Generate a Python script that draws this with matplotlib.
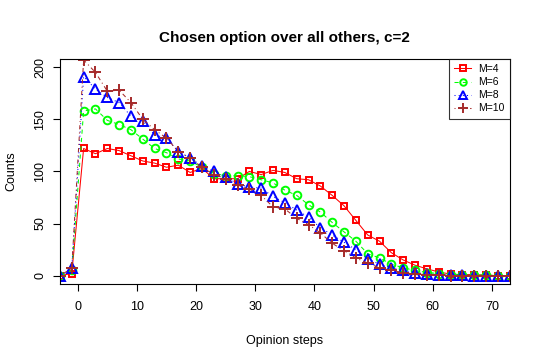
import numpy as np
import matplotlib
matplotlib.use("Agg")
import matplotlib.pyplot as plt

plt.rcParams['font.family'] = ['Liberation Sans', 'DejaVu Sans']

# opinion steps (odd values from -3 to 73)
steps = list(range(-3, 74, 2))

m4 = [0, 2, 122, 117, 122, 120, 115, 110, 108, 104, 106, 99, 103, 93, 93, 93,
      100, 97, 101, 99, 93, 92, 86, 77, 67, 53, 39, 33, 22, 15, 10, 6.5, 3.5,
      1.5, 1, 1, 0.5, 0, 0]
m6 = [0, 5, 158, 160, 149, 145, 140, 131, 122, 118, 112, 110, 104, 98, 96, 96,
      95, 92, 89, 82, 77, 68, 61, 51, 42, 33, 21, 17, 11, 7.5, 5, 3, 2, 1, 1,
      0.5, 0.5, 0, 0]
m8 = [0, 7, 191, 179, 171, 166, 153, 148, 135, 132, 119, 113, 105, 100, 95, 88,
      85, 84, 76, 70, 63, 56, 46, 39, 32, 25, 16, 11, 7.5, 5, 3, 1.5, 1, 0.5,
      0.5, 0, 0, 0, 0]
m10 = [0, 7, 207, 195, 177, 178, 166, 150, 140, 132, 119, 113, 104, 97, 93, 87,
       83, 77, 66, 64, 55, 49, 41, 31, 24, 17, 12, 7.5, 5, 3, 1.5, 1, 0.5, 0,
       0, 0, 0, 0, 0]

labels = ["M=4", "M=6", "M=8", "M=10"]

fig = plt.figure(figsize=(5.4, 3.59), dpi=100)
ax = fig.add_axes([0.111, 0.209, 0.833, 0.627])

ax.plot(steps, m4, color="red", linestyle="-", linewidth=0.75,
        marker="s", markersize=5, markerfacecolor="none", markeredgewidth=1.4,
        label=labels[0])
ax.plot(steps, m6, color="#00ff00", linestyle=(0, (4, 4)), linewidth=0.75,
        marker="o", markersize=5.5, markerfacecolor="none", markeredgewidth=1.4,
        label=labels[1])
ax.plot(steps, m8, color="blue", linestyle=(0, (1, 3)), linewidth=0.75,
        marker="^", markersize=6.5, markerfacecolor="none", markeredgewidth=1.4,
        label=labels[2])
ax.plot(steps, m10, color="#a52a2a", linestyle=(0, (1, 3, 4, 3)), linewidth=0.75,
        marker="+", markersize=8, markeredgewidth=1.4,
        label=labels[3])

ax.set_xlim(-3, 73)
ax.set_ylim(-8, 208)
ax.set_xticks(np.arange(0, 71, 10))
ax.set_yticks(np.arange(0, 201, 50))
ax.tick_params(direction="out", length=5, width=0.8, labelsize=9)
ax.tick_params(axis="x", pad=7)
ax.tick_params(axis="y", pad=5)
for lab in ax.get_yticklabels():
    lab.set_rotation(90)
    lab.set_va("center")
for s in ax.spines.values():
    s.set_linewidth(0.8)

ax.set_xlabel("Opinion steps", fontsize=9, labelpad=16)
ax.set_ylabel("Counts", fontsize=9, labelpad=12)
ax.set_title("Chosen option over all others, c=2", fontsize=11, fontweight="bold", pad=12)

leg = ax.legend(loc="upper right", fontsize=7.5, numpoints=1, fancybox=False,
                borderaxespad=0, handlelength=1.6, labelspacing=0.3,
                borderpad=0.5, handletextpad=0.7, markerscale=0.85)
leg.get_frame().set_edgecolor("black")
leg.get_frame().set_linewidth(0.8)

fig.savefig("out.png", dpi=100)
